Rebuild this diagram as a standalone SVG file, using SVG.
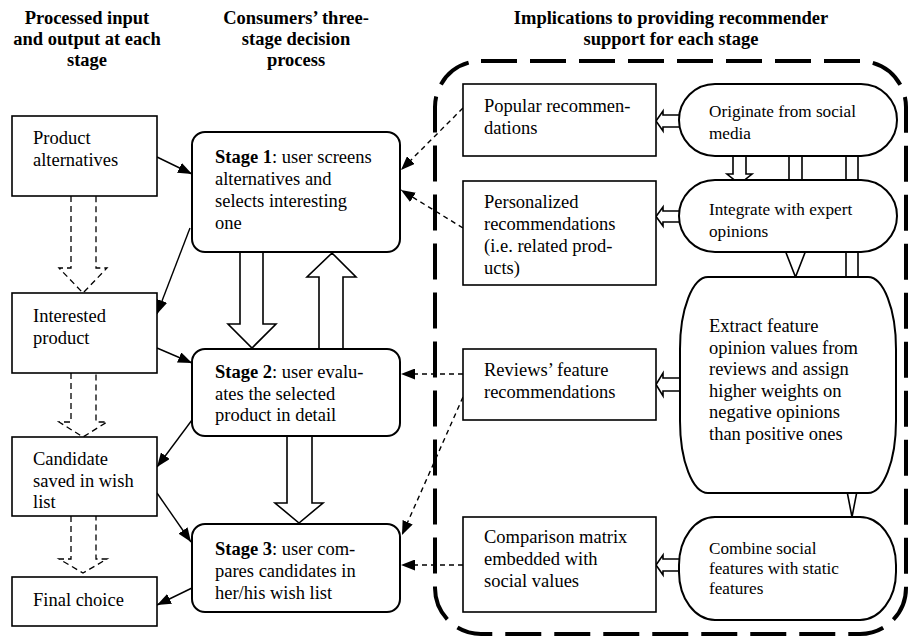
<svg xmlns="http://www.w3.org/2000/svg" width="908" height="637" viewBox="0 0 908 637">
<defs>
<style>
text{font-family:"Liberation Serif","Times New Roman",serif;font-size:18.5px;fill:#000}
.title{font-weight:bold;text-anchor:middle}
.sm{font-size:17.2px}
.box{fill:#fff;stroke:#000;stroke-width:1.6}
.rbox{fill:#fff;stroke:#000;stroke-width:2}
.blk{fill:#fff;stroke:#000;stroke-width:1.6;stroke-linejoin:miter}
.dblk{fill:#fff;stroke:#000;stroke-width:1.3;stroke-dasharray:6 4}
.sol{stroke:#000;stroke-width:1.4;fill:none;marker-end:url(#ah)}
.dsh{stroke:#000;stroke-width:1.4;fill:none;stroke-dasharray:5 4;marker-end:url(#ah)}
.frame{fill:none;stroke:#000;stroke-width:4;stroke-dasharray:36 13}
</style>
<marker id="ah" markerUnits="userSpaceOnUse" markerWidth="14" markerHeight="11" refX="14" refY="5.5" orient="auto">
<path d="M0,0 L14,5.5 L0,11 z" fill="#000"/>
</marker>
</defs>
<rect width="908" height="637" fill="#fff"/>

<g id="titles">
<text class="title" x="87" y="24">Processed input</text>
<text class="title" x="87" y="45">and output at each</text>
<text class="title" x="87" y="66">stage</text>
<text class="title" x="296" y="24">Consumers’ three-</text>
<text class="title" x="296" y="45">stage decision</text>
<text class="title" x="296" y="66">process</text>
<text class="title" x="671" y="24">Implications to providing recommender</text>
<text class="title" x="671" y="45">support for each stage</text>
</g>

<rect id="frame" class="frame" x="435" y="61" width="471" height="573" rx="46" ry="46"/>

<g id="connectors">
<path class="blk" d="M240,252 V324 H228 L252,348 L276,324 H263 V252"/>
<path class="blk" d="M319,349 V277 H307 L332,253 L356,277 H343 V349"/>
<path class="blk" d="M287,436 V503 H275 L299,523 L323,503 H312 V436"/>
<path class="dblk" d="M71,196 V268 H59 L83,293 L107,268 H96 V196"/>
<path class="dblk" d="M71,373 V422 H59 L83,437 L107,422 H96 V373"/>
<path class="dblk" d="M71,516 V559 H59 L83,573 L107,559 H96 V516"/>
<line class="sol" x1="157" y1="157" x2="192" y2="174"/>
<line class="sol" x1="190" y1="228" x2="157" y2="314"/>
<line class="sol" x1="157" y1="348" x2="192" y2="363"/>
<line class="sol" x1="192" y1="420" x2="157" y2="467"/>
<line class="sol" x1="157" y1="493" x2="191" y2="542"/>
<line class="sol" x1="192" y1="588" x2="157" y2="605"/>
<line class="dsh" x1="463" y1="108" x2="401" y2="170"/>
<line class="dsh" x1="463" y1="228" x2="401" y2="190"/>
<line class="dsh" x1="463" y1="374" x2="401" y2="374"/>
<line class="dsh" x1="463" y1="397" x2="402" y2="535"/>
<line class="dsh" x1="463" y1="565" x2="401" y2="565"/>
<path class="blk" d="M680,115 H663 V111 L656,121 L663,131 V127 H680"/>
<path class="blk" d="M680,211 H663 V207 L656,216.5 L663,226 V222 H680"/>
<path class="blk" d="M681,378 H663 V373 L656,384.5 L663,396 V391 H681"/>
<path class="blk" d="M680,559 H663 V555 L656,565 L663,575 V571 H680"/>
<path class="blk" d="M733,156 V174 H727 L739.5,184 L752,174 H746 V156"/>
<path class="blk" d="M789,156 V245 H783 L795.5,277 L808,245 H802 V156"/>
<path class="blk" d="M846,156 V455 H840 L852,517 L864,455 H858 V156"/>
</g>

<g id="n-product-alternatives"><rect class="box" x="12" y="116" width="145" height="80"/><text x="33" y="144">Product</text><text x="33" y="166">alternatives</text></g>
<g id="n-interested-product"><rect class="box" x="12" y="293" width="145" height="80"/><text x="33" y="322">Interested</text><text x="33" y="344">product</text></g>
<g id="n-candidate"><rect class="box" x="12" y="437" width="145" height="79"/><text x="33" y="465">Candidate</text><text x="33" y="487">saved in wish</text><text x="33" y="508">list</text></g>
<g id="n-final-choice"><rect class="box" x="12" y="577" width="145" height="49"/><text x="33" y="606">Final choice</text></g>

<g id="n-stage1"><rect class="rbox" x="192" y="132" width="208" height="120" rx="13"/><text x="215" y="163"><tspan font-weight="bold">Stage 1</tspan>: user screens</text><text x="215" y="185">alternatives and</text><text x="215" y="207">selects interesting</text><text x="215" y="229">one</text></g>
<g id="n-stage2"><rect class="rbox" x="192" y="349" width="208" height="87" rx="13"/><text x="215" y="378"><tspan font-weight="bold">Stage 2</tspan>: user evalu-</text><text x="215" y="400">ates the selected</text><text x="215" y="421">product in detail</text></g>
<g id="n-stage3"><rect class="rbox" x="192" y="524" width="208" height="88" rx="13"/><text x="215" y="555"><tspan font-weight="bold">Stage 3</tspan>: user com-</text><text x="215" y="577">pares candidates in</text><text x="215" y="599">her/his wish list</text></g>

<g id="n-popular"><rect class="box" x="463" y="84" width="193" height="72"/><text x="484" y="112">Popular recommen-</text><text x="484" y="134">dations</text></g>
<g id="n-personalized"><rect class="box" x="463" y="181" width="193" height="104"/><text x="484" y="208">Personalized</text><text x="484" y="230">recommendations</text><text x="484" y="252">(i.e. related prod-</text><text x="484" y="274">ucts)</text></g>
<g id="n-reviews"><rect class="box" x="463" y="349" width="193" height="71"/><text x="484" y="376">Reviews’ feature</text><text x="484" y="398">recommendations</text></g>
<g id="n-comparison"><rect class="box" x="463" y="517" width="193" height="95"/><text x="484" y="543">Comparison matrix</text><text x="484" y="565">embedded with</text><text x="484" y="587">social values</text></g>

<g id="n-originate"><rect class="rbox" x="679" y="84" width="218" height="72" rx="36" ry="36"/><text class="sm" x="709" y="117">Originate from social</text><text class="sm" x="709" y="139">media</text></g>
<g id="n-integrate"><rect class="rbox" x="679" y="180" width="218" height="72" rx="36" ry="36"/><text class="sm" x="709" y="215">Integrate with expert</text><text class="sm" x="709" y="237">opinions</text></g>
<g id="n-extract"><rect class="rbox" x="680" y="277" width="216" height="216" rx="28" ry="72"/><text x="709" y="332">Extract feature</text><text x="709" y="354">opinion values from</text><text x="709" y="375">reviews and assign</text><text x="709" y="397">higher weights on</text><text x="709" y="418">negative opinions</text><text x="709" y="440">than positive ones</text></g>
<g id="n-combine"><rect class="rbox" x="679" y="517" width="217" height="103" rx="36" ry="48"/><text class="sm" x="709" y="554">Combine social</text><text class="sm" x="709" y="574">features with static</text><text class="sm" x="709" y="594">features</text></g>
</svg>
